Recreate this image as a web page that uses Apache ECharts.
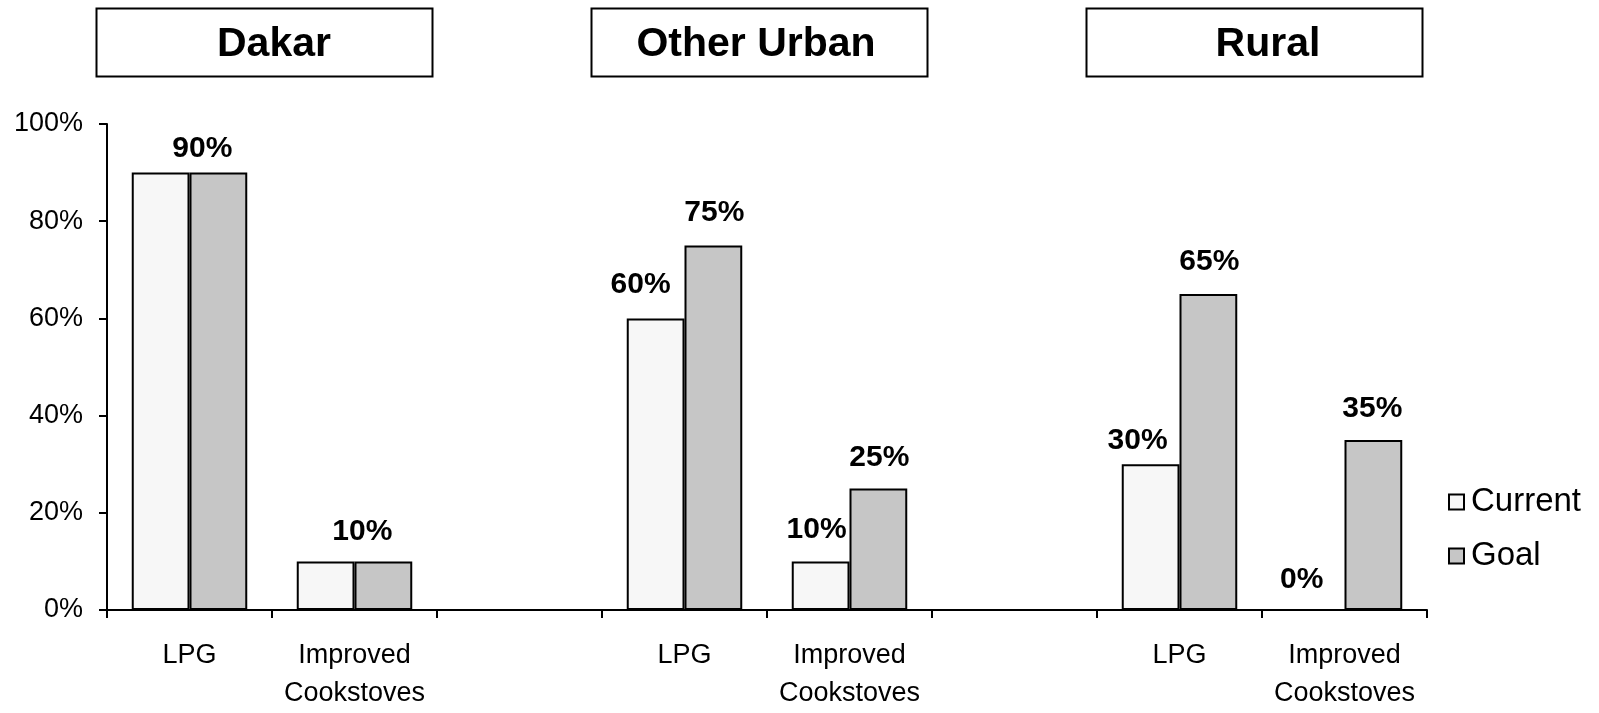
<!DOCTYPE html>
<html>
<head>
<meta charset="utf-8">
<script src="https://cdn.jsdelivr.net/npm/echarts@6/dist/echarts.min.js"></script>
<style>
  html, body { margin: 0; padding: 0; background: #fff; }
  #chart { width: 1599px; height: 713px; }
</style>
</head>
<body>
<div id="chart"></div>
<script>
// Fuel adoption by area: current share vs. goal share
const categories = ['LPG', 'Improved\nCookstoves', '', 'LPG', 'Improved\nCookstoves', '', 'LPG', 'Improved\nCookstoves'];
const currentValues = [90, 10, null, 60, 10, null, 30, 0];
const goalValues = [90, 10, null, 75, 25, null, 65, 35];
const areaNames = ['Dakar', 'Other Urban', 'Rural'];
const areaFirstCategory = [0, 3, 6];
const yTicks = { min: 0, max: 100, interval: 20 };

const FONT = 'Liberation Sans, Arial, sans-serif';

// Label placement tweaks per category index: [dx, distance]
const currentLabelPos = { 3: [-15, 19], 4: [-4, 17], 6: [-13, 8], 7: [-14, 14] };
const goalLabelPos = { 0: [-16, 9], 1: [-21, 15], 3: [1, 18], 4: [1, 16], 6: [1, 17], 7: [-1, 16] };

const labelBase = {
  show: true,
  position: 'top',
  distance: 17,
  fontFamily: FONT,
  fontSize: 30,
  fontWeight: 'bold',
  color: '#000',
  formatter: p => p.value + '%'
};

// A single shared label sits over a pair whose values are equal
const currentData = currentValues.map((v, i) => {
  const pos = currentLabelPos[i] || [-13, 17];
  return {
    value: v,
    label: { show: v !== null && v !== goalValues[i], offset: [pos[0], 0], distance: pos[1] }
  };
});
const goalData = goalValues.map((v, i) => {
  const pos = goalLabelPos[i] || [0, 17];
  return {
    value: v,
    label: { show: v !== null, offset: [pos[0], 0], distance: pos[1] }
  };
});

const chart = echarts.init(document.getElementById('chart'), null, { renderer: 'canvas' });

chart.setOption({
  animation: false,
  backgroundColor: '#fff',
  textStyle: { fontFamily: FONT },
  grid: { left: 107, right: 172, top: 124, bottom: 96, containLabel: false },
  legend: {
    orient: 'vertical',
    left: 1443,
    top: 479,
    icon: 'rect',
    itemWidth: 15,
    itemHeight: 15,
    itemGap: 18,
    textStyle: { fontFamily: FONT, fontSize: 33, color: '#000', lineHeight: 36, padding: [0, 0, 0, 2] },
    data: ['Current', 'Goal']
  },
  xAxis: {
    type: 'category',
    data: categories,
    axisLine: { lineStyle: { color: '#000', width: 2 } },
    axisTick: { show: true, alignWithLabel: false, length: 8, lineStyle: { color: '#000', width: 2 } },
    axisLabel: {
      interval: 0,
      margin: 27,
      fontFamily: FONT,
      fontSize: 27,
      lineHeight: 38,
      color: '#000'
    }
  },
  yAxis: {
    type: 'value',
    min: yTicks.min,
    max: yTicks.max,
    interval: yTicks.interval,
    splitLine: { show: false },
    axisLine: { show: true, lineStyle: { color: '#000', width: 2 } },
    axisTick: { show: true, length: 8, lineStyle: { color: '#000', width: 2 } },
    axisLabel: {
      margin: 24,
      fontFamily: FONT,
      fontSize: 27,
      color: '#000',
      formatter: '{value}%'
    }
  },
  series: [
    {
      name: 'Current',
      type: 'bar',
      data: currentData,
      barGap: '0%',
      barCategoryGap: '30%',
      itemStyle: { color: '#f7f7f7', borderColor: '#000', borderWidth: 2 },
      label: labelBase
    },
    {
      name: 'Goal',
      type: 'bar',
      data: goalData,
      barGap: '0%',
      barCategoryGap: '30%',
      itemStyle: { color: '#c6c6c6', borderColor: '#000', borderWidth: 2 },
      label: labelBase
    }
  ]
});

// Framed area headings above each pair of categories
const boxW = 336, boxH = 68, boxTop = 8;
const headingTextShift = [2, -11, 6];
const headings = [];
areaNames.forEach((name, k) => {
  const c0 = areaFirstCategory[k];
  const xa = chart.convertToPixel({ xAxisIndex: 0 }, c0);
  const xb = chart.convertToPixel({ xAxisIndex: 0 }, c0 + 1);
  const groupCenter = (xa + xb) / 2;
  const boxCenter = groupCenter - 8.5;
  headings.push({
    type: 'rect',
    shape: { x: Math.round(boxCenter - boxW / 2) + 0.5, y: boxTop + 0.5, width: boxW, height: boxH },
    style: { fill: '#fff', stroke: '#000', lineWidth: 2 }
  });
  headings.push({
    type: 'text',
    x: groupCenter + headingTextShift[k],
    y: 45,
    style: {
      text: name,
      fill: '#000',
      font: 'bold 41px ' + FONT,
      textAlign: 'center',
      textVerticalAlign: 'middle'
    }
  });
});
chart.setOption({ graphic: headings });
</script>
</body>
</html>
